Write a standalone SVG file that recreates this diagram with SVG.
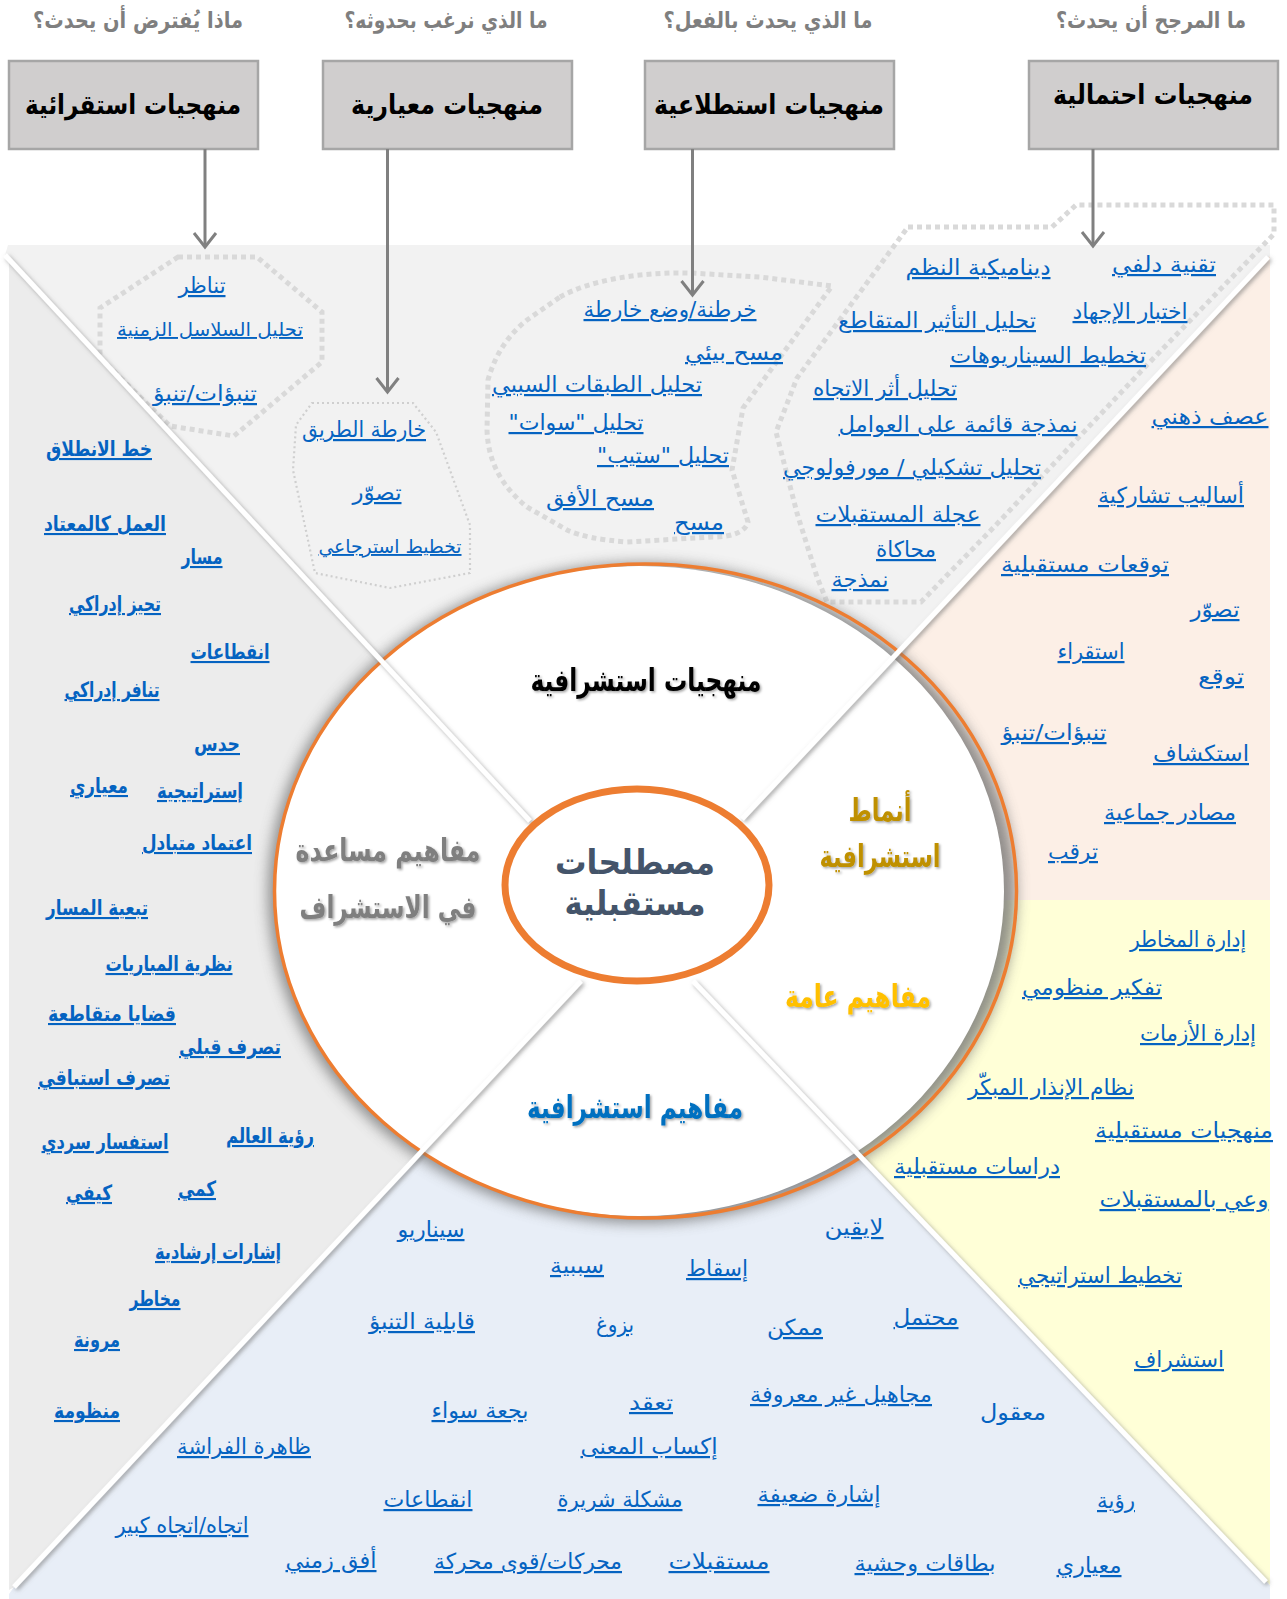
<svg xmlns="http://www.w3.org/2000/svg" width="1287" height="1599" viewBox="0 0 1287 1599">
<defs>
<style>
text { font-family: "DejaVu Sans", sans-serif; direction: rtl; unicode-bidi: embed; text-anchor: middle; }
.q { font-size: 23px; font-weight: bold; fill: #7f7f7f; }
.bt { font-size: 27px; font-weight: bold; fill: #000; }
.ln { font-size: 22px; fill: #0563c1; text-decoration: underline; }
.sm { font-size: 19px; }
.lb { font-size: 21px; font-weight: bold; fill: #0563c1; text-decoration: underline; }
.pl { font-size: 22px; fill: #0563c1; }
.sec { font-size: 31px; font-weight: bold; filter: url(#txtShadow); }
.hub { font-size: 34px; font-weight: bold; fill: #44546a; }
.box { fill: #d0cece; stroke: #a6a6a6; stroke-width: 2.5; }
.arrow { stroke: #808080; stroke-width: 3; fill: none; marker-end: url(#chev); }
.dots { fill: none; stroke: #d9d9d9; stroke-width: 5; stroke-dasharray: 5 4; }
.fine { fill: none; stroke: #cfcfcf; stroke-width: 2.2; stroke-dasharray: 2 3; stroke-linejoin: round; }
.div { stroke: #fff; stroke-width: 5; fill: none; filter: url(#lineShadow); }
</style>
<marker id="chev" viewBox="-16 -13 20 26" refX="0" refY="0" markerWidth="20" markerHeight="26" markerUnits="userSpaceOnUse" orient="auto" overflow="visible">
<path d="M-14,-11 L0,0 L-14,11" fill="none" stroke="#808080" stroke-width="3"/>
</marker>
<filter id="lineShadow" x="-10%" y="-10%" width="120%" height="120%">
<feDropShadow dx="2" dy="2" stdDeviation="2" flood-color="#6f6f6f" flood-opacity="0.6"/>
</filter>
<filter id="blur7" x="-10%" y="-10%" width="120%" height="120%">
<feGaussianBlur stdDeviation="7"/>
</filter>
<filter id="txtShadow" x="-10%" y="-30%" width="120%" height="160%">
<feDropShadow dx="1.5" dy="1.5" stdDeviation="1" flood-color="#000" flood-opacity="0.35"/>
</filter>
</defs>

<!-- background wedges -->
<g id="wedges">
<polygon fill="#f2f2f2" points="8,245 1270,245 1270,256 902.5,647.5 640,905 379,661 5,255"/>
<polygon fill="#ececec" points="5,255 379,661 640,905 420,1155 14,1587 9,1590 9,255"/>
<polygon fill="#e8eef7" points="640,905 420,1155 14,1587 9,1594 9,1599 1270,1599 1270,1585 862,1157"/>
<polygon fill="#fcefe6" points="1270,256 902.5,647.5 640,905 1018,900 1270,900"/>
<polygon fill="#ffffd7" points="1270,900 1018,900 640,905 862,1157 1270,1585"/>
</g>

<!-- method cluster outlines -->
<g id="cluster-outlines">
<polygon class="dots" points="178,257 257,257 322,312 322,362 234,436 170,426 100,358 100,308"/>
<polygon class="fine" points="312,403 413,403 436,432 470,525 470,573 390,588 315,573 293,470 296,425"/>
<path class="dots" d="M560,297 C590,280 640,272 690,273 L760,277 L832,286 L743,408 L732,470 L748,522 C745,533 730,537 713,537 L627,542 C600,540 580,536 567,530 L527,507 C500,485 488,460 487,430 L488,380 C495,355 508,335 527,320 Z"/>
<path class="dots" d="M908,227 L1052,227 L1076,205 L1274,205 L1274,234 L1147,365 L995,526 L921,602 L827,602 L817,577 L797,513 L776,432 L797,378 Z"/>
</g>

<!-- central wheel -->
<g id="wheel">
<ellipse cx="642" cy="893" rx="374" ry="330" fill="#6d6d6d" opacity="0.75" filter="url(#blur7)"/>
<ellipse cx="639" cy="891" rx="365" ry="325" fill="#fff"/>
<ellipse cx="645.5" cy="891" rx="371" ry="327" fill="none" stroke="#ed7d31" stroke-width="3.5"/>
</g>

<!-- dividers between the wedges -->
<g id="dividers">
<line class="div" x1="5" y1="255" x2="530" y2="821"/>
<line class="div" x1="1268" y1="257" x2="742" y2="819"/>
<line class="div" x1="1270" y1="900" x2="772" y2="900"/>
<line class="div" x1="1266" y1="1582" x2="693" y2="981"/>
<line class="div" x1="14" y1="1587" x2="581" y2="981"/>
</g>

<g id="hub">
<ellipse cx="637" cy="885" rx="132" ry="96" fill="#fff" stroke="#ed7d31" stroke-width="7"/>
<text class="hub" x="635" y="874" textLength="160" lengthAdjust="spacingAndGlyphs">مصطلحات</text>
<text class="hub" x="635" y="915" textLength="141" lengthAdjust="spacingAndGlyphs">مستقبلية</text>
</g>

<g id="sector-labels">
<text class="sec" x="646" y="691" fill="#000" textLength="231" lengthAdjust="spacingAndGlyphs">منهجيات استشرافية</text>
<text class="sec" x="880" y="821" fill="#bf9000" textLength="63" lengthAdjust="spacingAndGlyphs">أنماط</text>
<text class="sec" x="880" y="867" fill="#bf9000" textLength="121" lengthAdjust="spacingAndGlyphs">استشرافية</text>
<text class="sec" x="858" y="1007" fill="#ffc000" textLength="146" lengthAdjust="spacingAndGlyphs">مفاهيم عامة</text>
<text class="sec" x="635" y="1118" fill="#0070c0" textLength="216" lengthAdjust="spacingAndGlyphs">مفاهيم استشرافية</text>
<text class="sec" x="388" y="861" fill="#7f7f7f" textLength="185" lengthAdjust="spacingAndGlyphs">مفاهيم مساعدة</text>
<text class="sec" x="388" y="918" fill="#7f7f7f" textLength="177" lengthAdjust="spacingAndGlyphs">في الاستشراف</text>
</g>

<!-- method boxes -->
<g id="box-inductive">
<text class="q" x="138" y="28" textLength="210" lengthAdjust="spacingAndGlyphs">ماذا يُفترض أن يحدث؟</text>
<rect class="box" x="9" y="61" width="249" height="88"/>
<text class="bt" x="133" y="114" textLength="216" lengthAdjust="spacingAndGlyphs">منهجيات استقرائية</text>
</g>
<g id="box-normative">
<text class="q" x="446" y="28" textLength="203" lengthAdjust="spacingAndGlyphs">ما الذي نرغب بحدوثه؟</text>
<rect class="box" x="323" y="61" width="249" height="88"/>
<text class="bt" x="447" y="114" textLength="192" lengthAdjust="spacingAndGlyphs">منهجيات معيارية</text>
</g>
<g id="box-exploratory">
<text class="q" x="768" y="28" textLength="209" lengthAdjust="spacingAndGlyphs">ما الذي يحدث بالفعل؟</text>
<rect class="box" x="645" y="61" width="249" height="88"/>
<text class="bt" x="769" y="114" textLength="230" lengthAdjust="spacingAndGlyphs">منهجيات استطلاعية</text>
</g>
<g id="box-probabilistic">
<text class="q" x="1151" y="28" textLength="190" lengthAdjust="spacingAndGlyphs">ما المرجح أن يحدث؟</text>
<rect class="box" x="1029" y="61" width="249" height="88"/>
<text class="bt" x="1153" y="104" textLength="200" lengthAdjust="spacingAndGlyphs">منهجيات احتمالية</text>
</g>

<g id="connectors">
<line class="arrow" x1="205" y1="149" x2="205" y2="247"/>
<line class="arrow" x1="387.5" y1="149" x2="387.5" y2="392"/>
<line class="arrow" x1="692.5" y1="149" x2="692.5" y2="295"/>
<line class="arrow" x1="1093" y1="149" x2="1093" y2="246"/>
</g>

<g id="inductive-methods">
<text class="ln" x="202" y="293" textLength="47" lengthAdjust="spacingAndGlyphs">تناظر</text>
<text class="ln sm" x="210" y="336" textLength="186" lengthAdjust="spacingAndGlyphs">تحليل السلاسل الزمنية</text>
<text class="ln" x="205" y="401" textLength="104" lengthAdjust="spacingAndGlyphs">تنبؤات/تنبؤ</text>
</g>

<g id="normative-methods">
<text class="ln" x="364" y="437" textLength="124" lengthAdjust="spacingAndGlyphs">خارطة الطريق</text>
<text class="ln" x="377" y="500" textLength="49" lengthAdjust="spacingAndGlyphs">تصوّر</text>
<text class="ln sm" x="390" y="553" textLength="143" lengthAdjust="spacingAndGlyphs">تخطيط استرجاعي</text>
</g>

<g id="exploratory-methods">
<text class="ln" x="670" y="317" textLength="173" lengthAdjust="spacingAndGlyphs">خرطنة/وضع خارطة</text>
<text class="ln" x="734" y="360" textLength="98" lengthAdjust="spacingAndGlyphs">مسح بيئي</text>
<text class="ln" x="597" y="392" textLength="210" lengthAdjust="spacingAndGlyphs">تحليل الطبقات السببي</text>
<text class="ln" x="576" y="430" textLength="135" lengthAdjust="spacingAndGlyphs">تحليل "سوات"</text>
<text class="ln" x="663" y="463" textLength="132" lengthAdjust="spacingAndGlyphs">تحليل "ستيب"</text>
<text class="ln" x="600" y="506" textLength="108" lengthAdjust="spacingAndGlyphs">مسح الأفق</text>
<text class="ln" x="699" y="530" textLength="50" lengthAdjust="spacingAndGlyphs">مسح</text>
</g>

<g id="probabilistic-methods">
<text class="ln" x="978" y="275" textLength="145" lengthAdjust="spacingAndGlyphs">ديناميكية النظم</text>
<text class="ln" x="1164" y="272" textLength="104" lengthAdjust="spacingAndGlyphs">تقنية دلفي</text>
<text class="ln" x="937" y="328" textLength="198" lengthAdjust="spacingAndGlyphs">تحليل التأثير المتقاطع</text>
<text class="ln" x="1130" y="319" textLength="115" lengthAdjust="spacingAndGlyphs">اختبار الإجهاد</text>
<text class="ln" x="1048" y="363" textLength="196" lengthAdjust="spacingAndGlyphs">تخطيط السيناريوهات</text>
<text class="ln" x="885" y="396" textLength="144" lengthAdjust="spacingAndGlyphs">تحليل أثر الاتجاه</text>
<text class="ln" x="958" y="432" textLength="239" lengthAdjust="spacingAndGlyphs">نمذجة قائمة على العوامل</text>
<text class="ln" x="912" y="475" textLength="258" lengthAdjust="spacingAndGlyphs">تحليل تشكيلي / مورفولوجي</text>
<text class="ln" x="898" y="522" textLength="165" lengthAdjust="spacingAndGlyphs">عجلة المستقبلات</text>
<text class="ln" x="906" y="557" textLength="60" lengthAdjust="spacingAndGlyphs">محاكاة</text>
<text class="ln" x="860" y="587" textLength="57" lengthAdjust="spacingAndGlyphs">نمذجة</text>
</g>

<g id="foresight-types">
<text class="ln" x="1210" y="424" textLength="117" lengthAdjust="spacingAndGlyphs">عصف ذهني</text>
<text class="ln" x="1171" y="503" textLength="146" lengthAdjust="spacingAndGlyphs">أساليب تشاركية</text>
<text class="ln" x="1085" y="572" textLength="168" lengthAdjust="spacingAndGlyphs">توقعات مستقبلية</text>
<text class="ln" x="1215" y="617" textLength="49" lengthAdjust="spacingAndGlyphs">تصوّر</text>
<text class="ln" x="1091" y="659" textLength="67" lengthAdjust="spacingAndGlyphs">استقراء</text>
<text class="ln" x="1221" y="684" textLength="46" lengthAdjust="spacingAndGlyphs">توقع</text>
<text class="ln" x="1054" y="740" textLength="105" lengthAdjust="spacingAndGlyphs">تنبؤات/تنبؤ</text>
<text class="ln" x="1201" y="761" textLength="96" lengthAdjust="spacingAndGlyphs">استكشاف</text>
<text class="ln" x="1170" y="820" textLength="132" lengthAdjust="spacingAndGlyphs">مصادر جماعية</text>
<text class="ln" x="1073" y="859" textLength="50" lengthAdjust="spacingAndGlyphs">ترقب</text>
</g>

<g id="general-concepts">
<text class="ln" x="1188" y="947" textLength="116" lengthAdjust="spacingAndGlyphs">إدارة المخاطر</text>
<text class="ln" x="1092" y="995" textLength="140" lengthAdjust="spacingAndGlyphs">تفكير منظومي</text>
<text class="ln" x="1198" y="1041" textLength="116" lengthAdjust="spacingAndGlyphs">إدارة الأزمات</text>
<text class="ln" x="1051" y="1095" textLength="166" lengthAdjust="spacingAndGlyphs">نظام الإنذار المبكّر</text>
<text class="ln" x="1184" y="1138" textLength="178" lengthAdjust="spacingAndGlyphs">منهجيات مستقبلية</text>
<text class="ln" x="977" y="1174" textLength="166" lengthAdjust="spacingAndGlyphs">دراسات مستقبلية</text>
<text class="ln" x="1184" y="1207" textLength="169" lengthAdjust="spacingAndGlyphs">وعي بالمستقبلات</text>
<text class="ln" x="1100" y="1283" textLength="164" lengthAdjust="spacingAndGlyphs">تخطيط استراتيجي</text>
<text class="ln" x="1179" y="1367" textLength="90" lengthAdjust="spacingAndGlyphs">استشراف</text>
</g>

<g id="foresight-concepts">
<text class="ln" x="431" y="1237" textLength="67" lengthAdjust="spacingAndGlyphs">سيناريو</text>
<text class="ln" x="854" y="1235" textLength="59" lengthAdjust="spacingAndGlyphs">لايقين</text>
<text class="ln" x="577" y="1273" textLength="54" lengthAdjust="spacingAndGlyphs">سببية</text>
<text class="ln" x="717" y="1276" textLength="62" lengthAdjust="spacingAndGlyphs">إسقاط</text>
<text class="ln" x="422" y="1329" textLength="106" lengthAdjust="spacingAndGlyphs">قابلية التنبؤ</text>
<text class="ln" x="615" y="1332" textLength="38" lengthAdjust="spacingAndGlyphs">بزوغ</text>
<text class="ln" x="795" y="1335" textLength="56" lengthAdjust="spacingAndGlyphs">ممكن</text>
<text class="ln" x="926" y="1325" textLength="65" lengthAdjust="spacingAndGlyphs">محتمل</text>
<text class="ln" x="841" y="1402" textLength="182" lengthAdjust="spacingAndGlyphs">مجاهيل غير معروفة</text>
<text class="ln" x="480" y="1418" textLength="97" lengthAdjust="spacingAndGlyphs">بجعة سواء</text>
<text class="ln" x="651" y="1410" textLength="44" lengthAdjust="spacingAndGlyphs">تعقد</text>
<text class="pl" x="1013" y="1420" textLength="66" lengthAdjust="spacingAndGlyphs">معقول</text>
<text class="ln" x="244" y="1454" textLength="134" lengthAdjust="spacingAndGlyphs">ظاهرة الفراشة</text>
<text class="ln" x="649" y="1454" textLength="137" lengthAdjust="spacingAndGlyphs">إكساب المعنى</text>
<text class="ln" x="428" y="1507" textLength="89" lengthAdjust="spacingAndGlyphs">انقطاعات</text>
<text class="ln" x="620" y="1507" textLength="125" lengthAdjust="spacingAndGlyphs">مشكلة شريرة</text>
<text class="ln" x="819" y="1502" textLength="123" lengthAdjust="spacingAndGlyphs">إشارة ضعيفة</text>
<text class="ln" x="1116" y="1508" textLength="38" lengthAdjust="spacingAndGlyphs">رؤية</text>
<text class="ln" x="182" y="1533" textLength="133" lengthAdjust="spacingAndGlyphs">اتجاه/اتجاه كبير</text>
<text class="ln" x="331" y="1568" textLength="91" lengthAdjust="spacingAndGlyphs">أفق زمني</text>
<text class="ln" x="528" y="1569" textLength="188" lengthAdjust="spacingAndGlyphs">محركات/قوى محركة</text>
<text class="ln" x="719" y="1569" textLength="101" lengthAdjust="spacingAndGlyphs">مستقبلات</text>
<text class="ln" x="925" y="1571" textLength="141" lengthAdjust="spacingAndGlyphs">بطاقات وحشية</text>
<text class="ln" x="1089" y="1573" textLength="65" lengthAdjust="spacingAndGlyphs">معياري</text>
</g>

<g id="supporting-concepts">
<text class="lb" x="99" y="456" textLength="106" lengthAdjust="spacingAndGlyphs">خط الانطلاق</text>
<text class="lb" x="105" y="531" textLength="122" lengthAdjust="spacingAndGlyphs">العمل كالمعتاد</text>
<text class="lb" x="202" y="564" textLength="41" lengthAdjust="spacingAndGlyphs">مسار</text>
<text class="lb" x="115" y="611" textLength="92" lengthAdjust="spacingAndGlyphs">تحيز إدراكي</text>
<text class="lb" x="230" y="659" textLength="79" lengthAdjust="spacingAndGlyphs">انقطاعات</text>
<text class="lb" x="112" y="697" textLength="95" lengthAdjust="spacingAndGlyphs">تنافر إدراكي</text>
<text class="lb" x="217" y="751" textLength="46" lengthAdjust="spacingAndGlyphs">حدس</text>
<text class="lb" x="99" y="793" textLength="58" lengthAdjust="spacingAndGlyphs">معياري</text>
<text class="lb" x="200" y="798" textLength="86" lengthAdjust="spacingAndGlyphs">إستراتيجية</text>
<text class="lb" x="197" y="850" textLength="110" lengthAdjust="spacingAndGlyphs">اعتماد متبادل</text>
<text class="lb" x="97" y="915" textLength="102" lengthAdjust="spacingAndGlyphs">تبعية المسار</text>
<text class="lb" x="169" y="971" textLength="127" lengthAdjust="spacingAndGlyphs">نظرية المباريات</text>
<text class="lb" x="112" y="1021" textLength="128" lengthAdjust="spacingAndGlyphs">قضايا متقاطعة</text>
<text class="lb" x="230" y="1054" textLength="102" lengthAdjust="spacingAndGlyphs">تصرف قبلي</text>
<text class="lb" x="104" y="1085" textLength="132" lengthAdjust="spacingAndGlyphs">تصرف استباقي</text>
<text class="lb" x="270" y="1143" textLength="88" lengthAdjust="spacingAndGlyphs">رؤية العالم</text>
<text class="lb" x="105" y="1149" textLength="127" lengthAdjust="spacingAndGlyphs">استفسار سردي</text>
<text class="lb" x="197" y="1196" textLength="38" lengthAdjust="spacingAndGlyphs">كمي</text>
<text class="lb" x="89" y="1200" textLength="46" lengthAdjust="spacingAndGlyphs">كيفي</text>
<text class="lb" x="218" y="1259" textLength="126" lengthAdjust="spacingAndGlyphs">إشارات إرشادية</text>
<text class="lb" x="155" y="1306" textLength="51" lengthAdjust="spacingAndGlyphs">مخاطر</text>
<text class="lb" x="97" y="1347" textLength="46" lengthAdjust="spacingAndGlyphs">مرونة</text>
<text class="lb" x="87" y="1418" textLength="66" lengthAdjust="spacingAndGlyphs">منظومة</text>
</g>
</svg>
